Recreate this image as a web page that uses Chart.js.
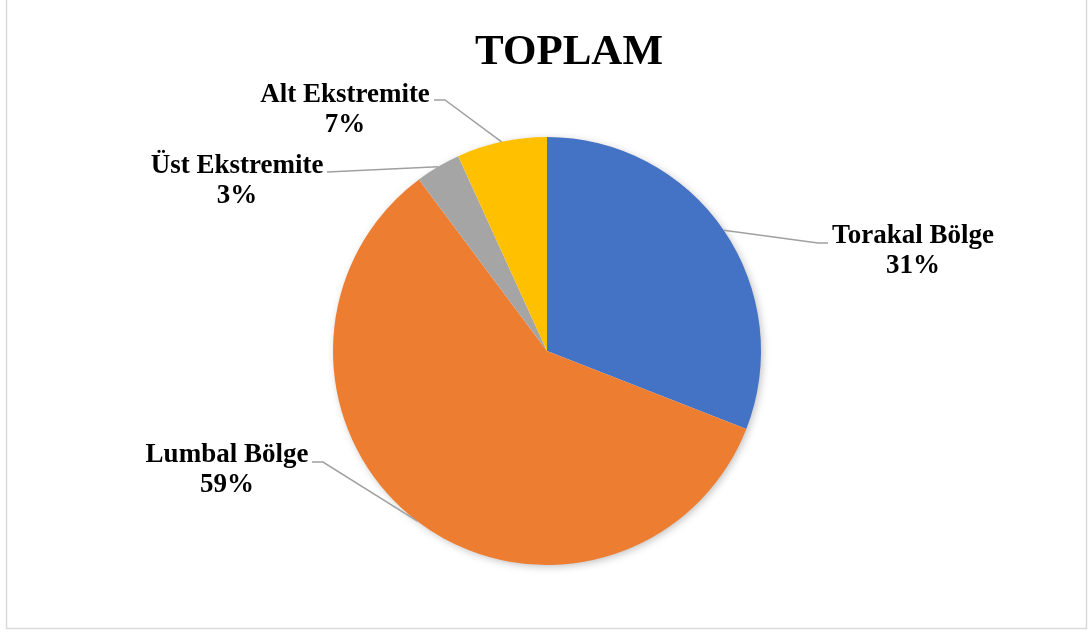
<!DOCTYPE html>
<html>
<head>
<meta charset="utf-8">
<script src="https://cdn.jsdelivr.net/npm/chart.js@4"></script>
<style>
  html, body { margin: 0; padding: 0; background: #fff; }
  canvas { display: block; }
</style>
</head>
<body>
<canvas id="chart1" width="1088" height="635"></canvas>
<script>
// Data
const regions = ["Torakal Bölge", "Lumbal Bölge", "Üst Ekstremite", "Alt Ekstremite"];
const shares = [30.9, 58.8, 3.4, 6.8];
const sliceColors = ["#4472C4", "#ED7D31", "#A5A5A5", "#FFC000"];

// label layout: text centre x, first baseline y, leader elbow, leader end
const labelLayout = [
  { x: 913, y: 243, elbow: [818, 243], end: [828, 243] },
  { x: 227, y: 462, elbow: [323, 462], end: [312, 462] },
  { x: 237, y: 173, elbow: [327, 172], end: [327, 172] },
  { x: 345, y: 102, elbow: [445, 100], end: [434, 100] },
];

const total = shares.reduce((a, b) => a + b, 0);

// frame, title, shadow, labels
const pieExtras = {
  id: "pieExtras",
  beforeDraw(chart) {
    const ctx = chart.ctx;
    ctx.save();
    ctx.fillStyle = "#fff";
    ctx.fillRect(0, 0, chart.width, chart.height);
    ctx.strokeStyle = "#d9d9d9";
    ctx.lineWidth = 1.5;
    ctx.strokeRect(6.5, -2, 1080, 630.5);
    ctx.fillStyle = "#000";
    ctx.font = "bold 43px 'Liberation Serif'";
    ctx.textAlign = "center";
    ctx.textBaseline = "alphabetic";
    ctx.fillText("TOPLAM", 569, 64);
    ctx.restore();
  },
  beforeDatasetsDraw(chart) {
    const arc = chart.getDatasetMeta(0).data[0];
    if (!arc) return;
    const ctx = chart.ctx;
    ctx.save();
    ctx.shadowColor = "rgba(0,0,0,0.28)";
    ctx.shadowBlur = 9;
    ctx.shadowOffsetX = 2;
    ctx.shadowOffsetY = 2;
    ctx.fillStyle = "#fff";
    ctx.beginPath();
    ctx.arc(arc.x, arc.y, arc.outerRadius - 1, 0, Math.PI * 2);
    ctx.fill();
    ctx.restore();
  },
  afterDatasetsDraw(chart) {
    const ctx = chart.ctx;
    const arcs = chart.getDatasetMeta(0).data;
    ctx.save();
    arcs.forEach((arc, i) => {
      const mid = (arc.startAngle + arc.endAngle) / 2;
      const sx = arc.x + Math.cos(mid) * arc.outerRadius;
      const sy = arc.y + Math.sin(mid) * arc.outerRadius;
      const lay = labelLayout[i];
      ctx.strokeStyle = "#a0a0a0";
      ctx.lineWidth = 1.5;
      ctx.beginPath();
      ctx.moveTo(sx, sy);
      ctx.lineTo(lay.elbow[0], lay.elbow[1]);
      ctx.lineTo(lay.end[0], lay.end[1]);
      ctx.stroke();

      ctx.fillStyle = "#000";
      ctx.font = "bold 27px 'Liberation Serif'";
      ctx.textAlign = "center";
      ctx.textBaseline = "alphabetic";
      ctx.fillText(regions[i], lay.x, lay.y);
      ctx.fillText(Math.round(shares[i] / total * 100) + "%", lay.x, lay.y + 30);
    });
    ctx.restore();
  },
};

new Chart(document.getElementById("chart1").getContext("2d"), {
  type: "pie",
  data: {
    labels: regions,
    datasets: [
      {
        data: shares,
        backgroundColor: sliceColors,
        borderWidth: 0,
      },
    ],
  },
  options: {
    responsive: false,
    animation: false,
    layout: {
      padding: { left: 333, right: 327, top: 137, bottom: 70 },
    },
    plugins: {
      legend: { display: false },
      title: { display: false },
      tooltip: { enabled: false },
    },
  },
  plugins: [pieExtras],
});
</script>
</body>
</html>
